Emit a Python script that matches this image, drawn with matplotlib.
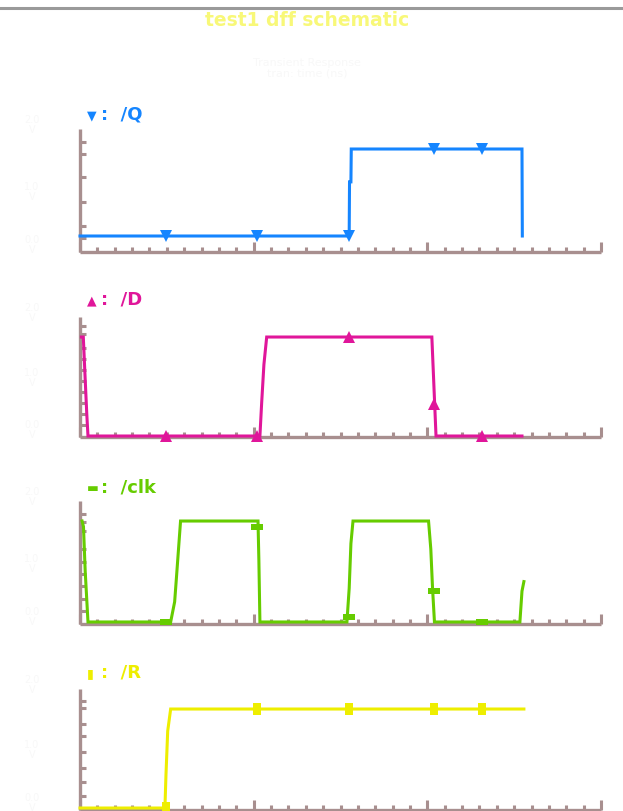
import numpy as np
import matplotlib
matplotlib.use("Agg")
import matplotlib.pyplot as plt

# figure size in pixels
W, H = 623, 812

# marker times shared by all signals (ns)
mark_t = [4.95, 10.2, 15.49, 20.38, 23.14]

# /Q
q_t = [0, 15.50, 15.52, 15.60, 15.62, 25.45, 25.47]
q_v = [0, 0, 1.12, 1.12, 1.8, 1.8, 0]
q_mark = [0, 0, 0, 1.8, 1.8]

# /D
d_t = [0.08, 0.19, 0.29, 0.39, 0.46, 10.36, 10.46, 10.59, 10.75, 20.26, 20.38, 20.5, 25.45]
d_v = [1.8, 1.8, 1.09, 0.4, 0, 0, 0.6, 1.3, 1.8, 1.8, 0.9, 0, 0]
d_mark = [0, 0, 1.8, 0.58, 0]

# /clk
clk_t = [0.12, 0.2, 0.3, 0.46, 5.22, 5.45, 5.56, 5.79, 10.25, 10.3, 10.36,
         15.37, 15.5, 15.6, 15.72, 20.07, 20.2, 20.3, 20.41, 25.33, 25.45, 25.56]
clk_v = [1.8, 1.7, 0.9, 0, 0, 0.36, 0.82, 1.8, 1.8, 1.1, 0,
         0, 0.6, 1.4, 1.8, 1.8, 1.3, 0.6, 0, 0, 0.55, 0.72]
clk_mark = [0, 1.69, 0.09, 0.55, 0]

# /R
r_t = [0, 4.89, 4.95, 5.05, 5.22, 25.56]
r_v = [0, 0, 0.6, 1.4, 1.8, 1.8]
r_mark = [0, 1.8, 1.8, 1.8, 1.8]

axis_c = "#a88f8f"
ghost = "#f8f8f8"

# flat bar / upright bar markers
hbar = [(-1, -0.45), (1, -0.45), (1, 0.45), (-1, 0.45), (-1, -0.45)]
vbar = [(-0.6, -1), (0.6, -1), (0.6, 1), (-0.6, 1), (-0.6, -1)]

fig = plt.figure(figsize=(W / 100, H / 100), dpi=100)
fig.patch.set_facecolor("white")


def rect(x0, yt, x1, yb):
    return [x0 / W, 1 - yb / H, (x1 - x0) / W, (yb - yt) / H]


def fx(x):
    return x / W


def fy(y):
    return 1 - y / H


# top gray rule and title
fig.add_artist(plt.Line2D([0, 1], [fy(8.5), fy(8.5)], color="#9a9a9a", lw=2.2))
fig.text(fx(307), fy(20), "test1 dff schematic", color="#f8f878",
         fontsize=13.5, fontweight="bold", ha="center", va="center")
fig.text(fx(307), fy(68), "Transient Response\ntran: time (ns)", color=ghost,
         fontsize=8, ha="center", va="center", linespacing=1.1)

panels = [
    # name, color, marker, t, v, marks, rect, ylim, yticks, label y, symbol
    ("/Q", "#1585ff", "v", q_t, q_v, q_mark, (80, 130, 601, 253), (-0.331, 2.214),
     [-0.05, 0.2, 0.7, 1.22, 1.7, 1.95], 115, "\u25bc"),
    ("/D", "#e0169a", "^", d_t, d_v, d_mark, (80, 318, 601, 438), (-0.018, 2.164),
     [0.2, 0.4, 0.6, 0.8, 1.0, 1.2, 1.4, 1.6, 1.85, 2.0], 300, "\u25b2"),
    ("/clk", "#66cc00", hbar, clk_t, clk_v, clk_mark, (80, 502, 601, 625), (-0.036, 2.157),
     [0.2, 0.41, 0.64, 0.86, 1.07, 1.3, 1.62, 1.78, 1.93], 488, "\u25ac"),
    ("/R", "#eeee00", vbar, r_t, r_v, r_mark, (80, 690, 601, 811), (-0.036, 2.164),
     [0.22, 0.47, 0.73, 1.02, 1.31, 1.53, 1.81, 1.95], 673, "\u25ae"),
]

for name, col, mk, t, v, marks, r, ylim, yt, ly, sym in panels:
    ax = fig.add_axes(rect(*r))
    ax.set_facecolor("none")
    ax.set_xlim(0, 30)
    ax.set_ylim(*ylim)
    for s in ["top", "right"]:
        ax.spines[s].set_visible(False)
    for s in ["left", "bottom"]:
        ax.spines[s].set_color(axis_c)
        ax.spines[s].set_linewidth(2.4)
        ax.spines[s].set_capstyle("butt")

    ax.set_xticks([0, 10, 20, 30])
    ax.set_xticks(np.arange(0, 31, 1), minor=True)
    ax.set_yticks(yt)
    ax.set_yticks([], minor=True)
    ax.tick_params(axis="x", which="major", direction="in", length=7.5, width=2.2,
                   color=axis_c, labelbottom=False)
    ax.tick_params(axis="x", which="minor", direction="in", length=3.6, width=2.2,
                   color=axis_c)
    ax.tick_params(axis="y", which="major", direction="in", length=4, width=2.2,
                   color=axis_c, labelleft=False)

    ax.plot(t, v, color=col, lw=2.2, zorder=3, clip_on=False,
            solid_joinstyle="miter")
    ax.plot(mark_t, marks, ls="none", marker=mk, color=col, ms=9, mew=0,
            zorder=4, clip_on=False)

    # faint y labels (white on white in the original)
    yb, ytp = r[3], r[1]
    for yy, txt in [(ytp - 5, "2.0\nV"), ((ytp + yb) / 2, "1.0\nV"), (yb - 8, "0.0\nV")]:
        fig.text(fx(32), fy(yy), txt, color=ghost, fontsize=7, ha="center",
                 va="center", linespacing=1.0)

    # signal label
    fig.text(fx(87), fy(ly + 1), sym, color=col, fontsize=9, fontweight="bold",
             ha="left", va="center")
    fig.text(fx(101), fy(ly), ":  " + name, color=col, fontsize=13,
             fontweight="bold", ha="left", va="center")

fig.savefig("out.png", dpi=100, facecolor="white")
